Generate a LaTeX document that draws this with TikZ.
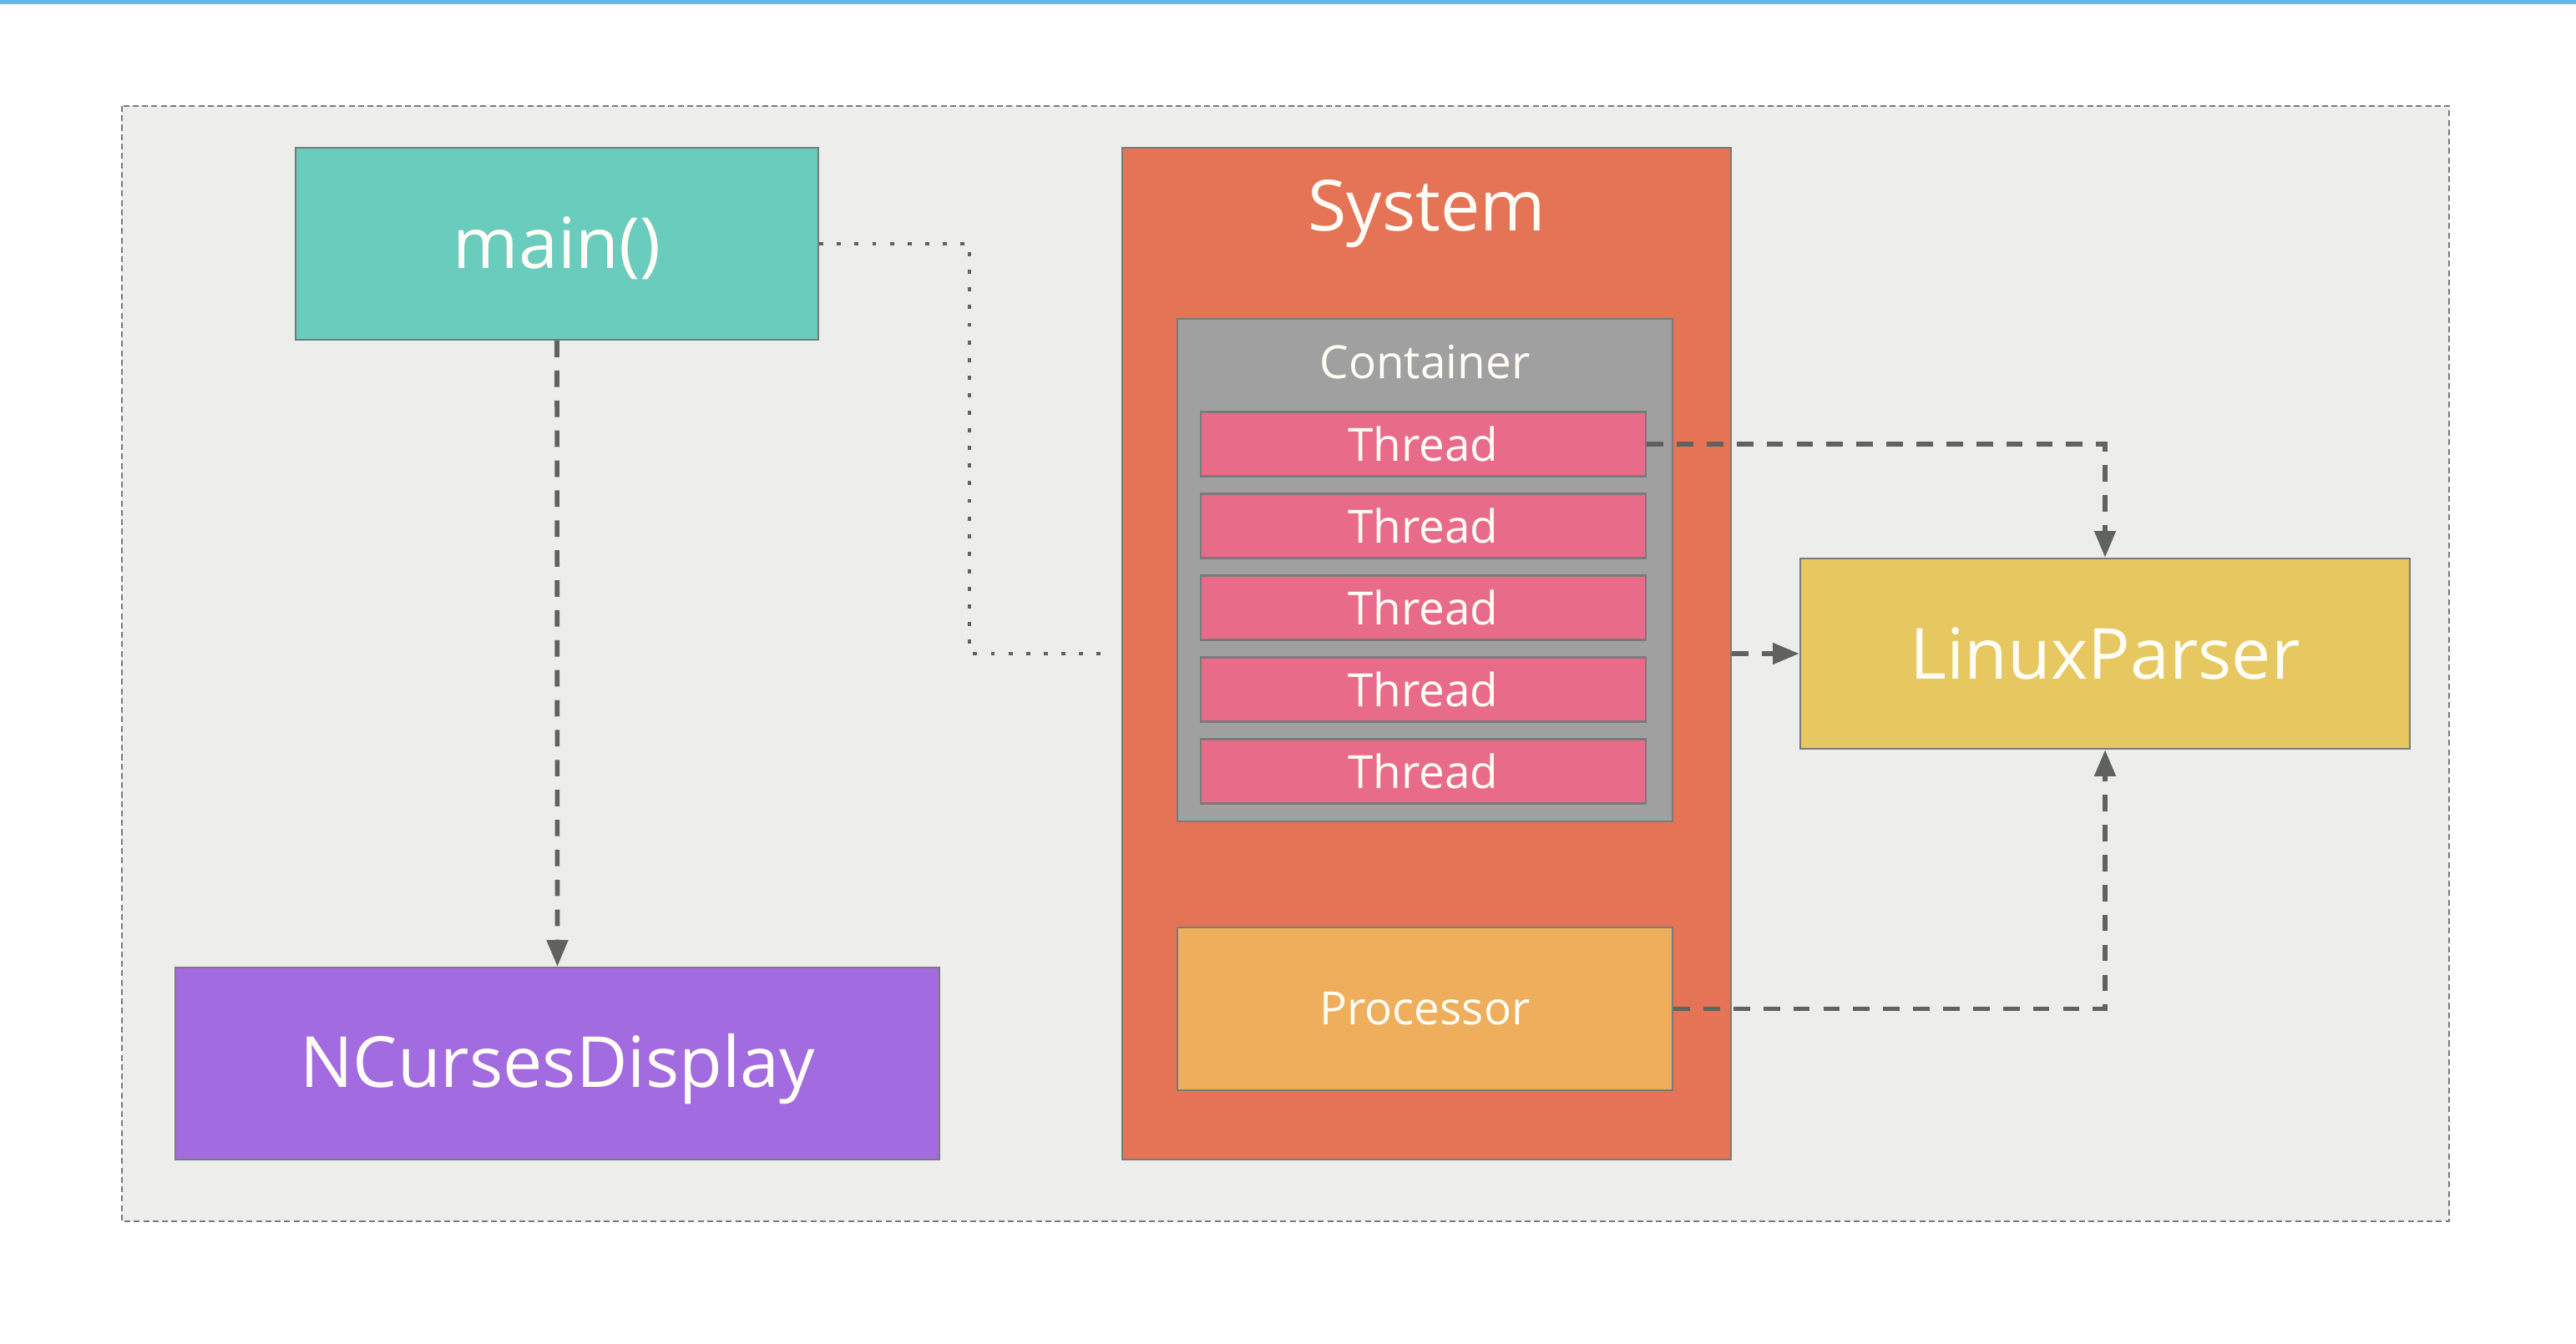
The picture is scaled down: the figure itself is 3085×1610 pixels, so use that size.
\documentclass[tikz,border=0pt]{standalone}
\usepackage{fontspec}
\setmainfont{Open Sans}
\usepackage{tikz}
\usetikzlibrary{arrows.meta}

\definecolor{bgfill}{RGB}{237,237,235}
\definecolor{edgegray}{RGB}{122,122,122}
\definecolor{linkgray}{RGB}{96,98,96}
\definecolor{topblue}{RGB}{96,186,226}
\definecolor{mainteal}{RGB}{106,204,188}
\definecolor{sysorange}{RGB}{229,115,86}
\definecolor{contgray}{RGB}{160,160,160}
\definecolor{threadpink}{RGB}{232,108,138}
\definecolor{procorange}{RGB}{238,174,92}
\definecolor{parseryellow}{RGB}{230,199,96}
\definecolor{ncpurple}{RGB}{163,107,224}
\definecolor{labelwhite}{RGB}{255,253,245}

\newcommand{\biglabel}{\fontsize{24}{28}\selectfont}
\newcommand{\smalllabel}{\fontsize{15.6}{19}\selectfont}

\begin{document}
\begin{tikzpicture}[x=0.01cm, y=-0.01cm,
    box/.style={draw=edgegray, line width=0.6pt, inner sep=0pt, text=labelwhite, align=center},
    link/.style={draw=linkgray, line width=1.6pt, dash pattern=on 5.6pt off 4.6pt},
    linkarrow/.style={link, -{Triangle[length=9pt,width=7pt]}},
    dotlink/.style={draw=linkgray, line width=1.4pt, dash pattern=on 1.4pt off 4.6pt}]
    \useasboundingbox (0,0) rectangle (3085,1610);
    % page and outer frame
    \fill[white] (0,0) rectangle (3085,1610);
    \fill[topblue] (0,0) rectangle (3085,5);
    \draw[fill=bgfill, draw=edgegray, line width=0.5pt, dash pattern=on 2pt off 1.2pt] (146,127) rectangle (2933,1463);
    % left column
    \node[box, fill=mainteal, minimum width=6.26cm, minimum height=2.30cm] (main) at (667,292) {\biglabel\raisebox{-1.5pt}[\height][\depth]{main()}};
    \node[box, fill=ncpurple, minimum width=9.15cm, minimum height=2.30cm] (ncurses) at (667.5,1274) {\biglabel\raisebox{-2pt}[\height][\depth]{NCursesDisplay}};
    % system with container, threads and processor
    \node[box, fill=sysorange, minimum width=7.29cm, minimum height=12.12cm] (system) at (1708.5,783) {};
    \node[anchor=base, text=labelwhite, inner sep=0pt] (systitle) at (1708.5,277) {\biglabel System};
    \node[box, fill=contgray, minimum width=5.93cm, minimum height=6.02cm] (container) at (1706.5,683) {};
    \node[anchor=base, text=labelwhite, inner sep=0pt] (conttitle) at (1706.5,454) {\smalllabel Container};
    \foreach \i [evaluate=\i as \ty using 434+98*\i] in {1,...,5}
        \node[box, fill=threadpink, minimum width=5.33cm, minimum height=0.77cm] (thread\i) at (1704.5,\ty) {\smalllabel Thread};
    \node[box, fill=procorange, minimum width=5.93cm, minimum height=1.95cm] (processor) at (1706.5,1208.5) {\smalllabel Processor};
    % parser
    \node[box, fill=parseryellow, minimum width=7.30cm, minimum height=2.28cm] (parser) at (2521,783) {\biglabel LinuxParser};
    % connectors
    \coordinate (mainbend) at (1161,292);
    \draw[dotlink] (main.east) -- (mainbend) |- ([xshift=-3pt]system.west);
    \draw[linkarrow] (main.south) -- (ncurses.north);
    \draw[linkarrow] (thread1.east) -| (parser.north);
    \draw[linkarrow] (system.east) -- (parser.west);
    \draw[linkarrow] (processor.east) -| (parser.south);
\end{tikzpicture}
\end{document}
